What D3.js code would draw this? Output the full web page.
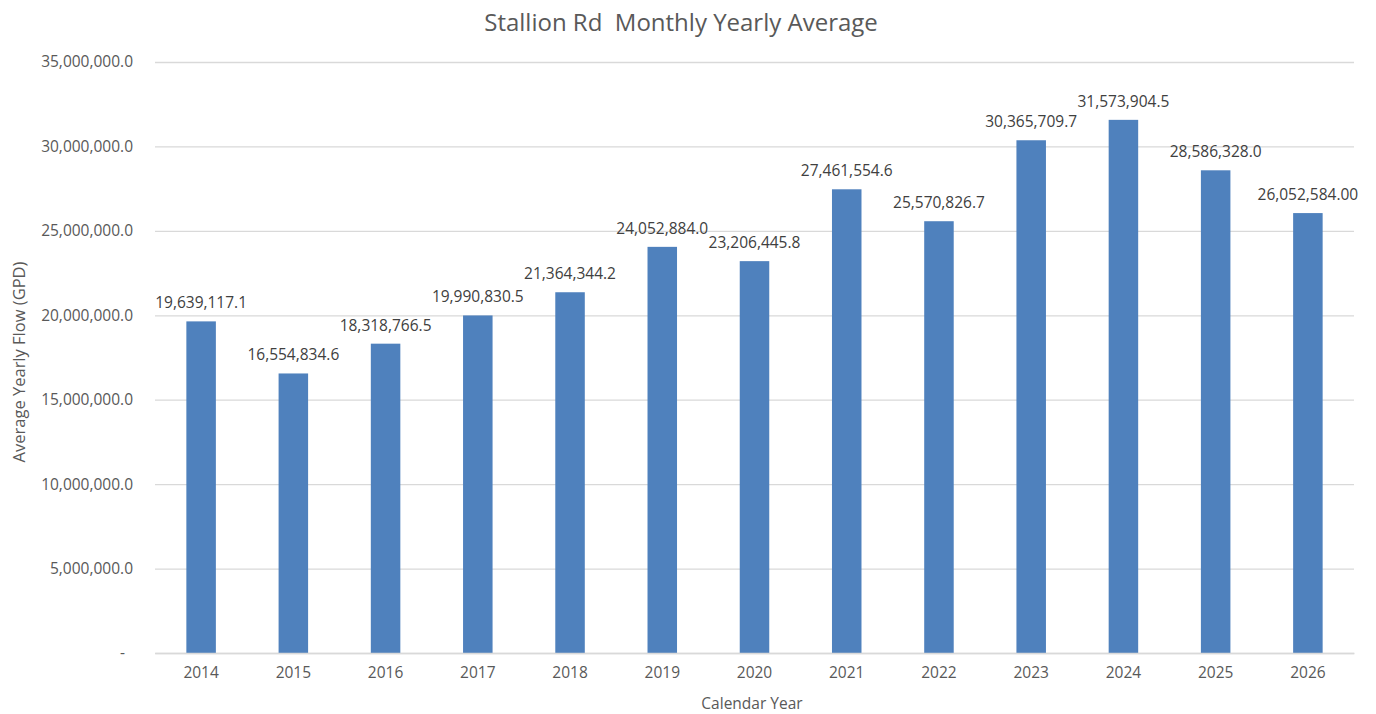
<!DOCTYPE html>
<html>
<head>
<meta charset="utf-8">
<script src="https://cdn.jsdelivr.net/npm/d3@7"></script>
<style>
  body { margin: 0; background: #fff; }
  text { font-family: "Open Sans", "Noto Sans", sans-serif; }
</style>
</head>
<body>
<div id="chart"></div>
<script>
// Stallion Rd yearly flow
const years = ["2014", "2015", "2016", "2017", "2018", "2019", "2020",
               "2021", "2022", "2023", "2024", "2025", "2026"];
const flows = [19639117.1, 16554834.6, 18318766.5, 19990830.5, 21364344.2,
               24052884.0, 23206445.8, 27461554.6, 25570826.7, 30365709.7,
               31573904.5, 28586328.0, 26052584.00];
const flowLabels = ["19,639,117.1", "16,554,834.6", "18,318,766.5", "19,990,830.5",
                    "21,364,344.2", "24,052,884.0", "23,206,445.8", "27,461,554.6",
                    "25,570,826.7", "30,365,709.7", "31,573,904.5", "28,586,328.0",
                    "26,052,584.00"];
const yTicks = [0, 5e6, 10e6, 15e6, 20e6, 25e6, 30e6, 35e6];

const width = 1376, height = 714;
const margin = { top: 62, right: 22, bottom: 61, left: 155 };

const svg = d3.select("#chart").append("svg")
  .attr("width", width)
  .attr("height", height);

const x = d3.scaleBand()
  .domain(years)
  .range([margin.left, width - margin.right])
  .paddingInner(0.68)
  .paddingOuter(0.34);

const y = d3.scaleLinear()
  .domain([0, 35e6])
  .range([height - margin.bottom, margin.top]);

// gridlines + y labels
const fmt = d3.format(",.1f");
svg.append("g")
  .attr("transform", `translate(${margin.left},0)`)
  .call(d3.axisLeft(y).tickValues(yTicks)
    .tickSize(-(width - margin.left - margin.right))
    .tickPadding(22)
    .tickFormat(d => d === 0 ? "-" : fmt(d)))
  .call(g => g.select(".domain").remove())
  .call(g => g.selectAll(".tick line").attr("stroke", "#d9d9d9").attr("stroke-width", 1.3))
  .call(g => g.selectAll(".tick text")
    .attr("fill", "#595959")
    .attr("font-size", 15.5)
    .attr("dx", d => d === 0 ? -8 : 0));

// bars
svg.append("g").selectAll("rect")
  .data(years)
  .join("rect")
  .attr("x", d => x(d))
  .attr("width", x.bandwidth())
  .attr("y", (d, i) => y(flows[i]))
  .attr("height", (d, i) => y(0) - y(flows[i]))
  .attr("fill", "#4f81bd");

// value labels
svg.append("g").selectAll("text")
  .data(years)
  .join("text")
  .attr("x", d => x(d) + x.bandwidth() / 2)
  .attr("y", (d, i) => y(flows[i]) - 13)
  .attr("text-anchor", "middle")
  .attr("font-size", 15.5)
  .attr("fill", "#404040")
  .text((d, i) => flowLabels[i]);

// x axis
svg.append("g")
  .attr("transform", `translate(0,${y(0)})`)
  .call(d3.axisBottom(x).tickSize(0).tickPadding(14))
  .call(g => g.select(".domain").attr("stroke", "#d9d9d9").attr("stroke-width", 1.3))
  .call(g => g.selectAll(".tick text").attr("fill", "#595959").attr("font-size", 15.5));

// titles
svg.append("text")
  .attr("x", 681).attr("y", 31)
  .attr("text-anchor", "middle")
  .attr("font-size", 24)
  .attr("fill", "#595959")
  .attr("xml:space", "preserve")
  .text("Stallion Rd  Monthly Yearly Average");

svg.append("text")
  .attr("x", 752).attr("y", 709)
  .attr("text-anchor", "middle")
  .attr("font-size", 15.5)
  .attr("fill", "#595959")
  .text("Calendar Year");

svg.append("text")
  .attr("transform", "translate(25,362) rotate(-90)")
  .attr("text-anchor", "middle")
  .attr("font-size", 16.5)
  .attr("fill", "#595959")
  .text("Average Yearly Flow (GPD)");
</script>
</body>
</html>
